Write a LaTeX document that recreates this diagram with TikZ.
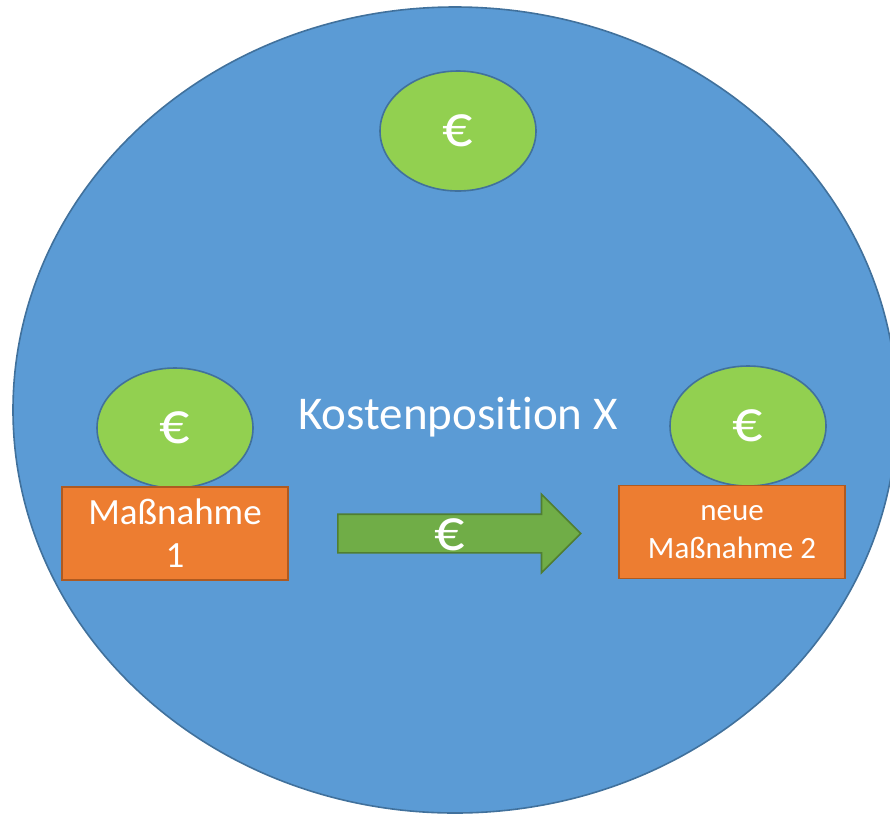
\documentclass[tikz,border=0pt]{standalone}
\usepackage{fontspec}
\setmainfont[Ligatures=NoCommon]{Carlito}
\usepackage{tikz}
\usetikzlibrary{shapes}
\usetikzlibrary{shapes.geometric}
\usetikzlibrary{shapes.arrows}
\definecolor{posfill}{HTML}{5B9BD5}
\definecolor{posline}{HTML}{41719C}
\definecolor{coinfill}{HTML}{92D050}
\definecolor{boxfill}{HTML}{ED7D31}
\definecolor{boxline}{HTML}{AE5A21}
\definecolor{flowfill}{HTML}{70AD47}
\definecolor{flowline}{HTML}{507E32}
\tikzstyle{coin} = [ellipse, draw=posline, fill=coinfill, line width=1.6pt, minimum width=156pt, minimum height=120pt, inner sep=0pt, text=white, font=\fontsize{60}{66}\selectfont]
\tikzstyle{measure} = [rectangle, draw=boxline, fill=boxfill, line width=1.6pt, minimum width=226pt, minimum height=93pt, inner sep=0pt, text=white, align=center]

\begin{document}
\begin{tikzpicture}[x=1pt, y=1pt]
\useasboundingbox (0,0) rectangle (890,-815);
\clip (0,0) rectangle (890,-815);
\node [ellipse, draw=posline, fill=posfill, line width=1.6pt, minimum width=884pt, minimum height=806pt, inner sep=0pt] (pos) at (455,-410) {};
\node [anchor=base, text=white, font=\fontsize{47}{56}\selectfont] (posname) at (458,-429) {Kostenposition X};
\node [coin] (topcoin) at (458,-131) {€};
\node [coin] (leftcoin) at (175,-428) {€};
\node [coin] (rightcoin) at (748,-426) {€};
\node [measure, font=\fontsize{37}{43}\selectfont] (M1) at (175,-533.5) {Maßnahme\\1};
\node [measure, font=\fontsize{31}{38}\selectfont] (M2) at (732,-532) {neue\\Maßnahme 2};
\node [single arrow, draw=flowline, fill=flowfill, line width=1.6pt, inner xsep=0pt, inner ysep=18.5pt, minimum height=243pt, single arrow head extend=20pt, anchor=tail] (flow) at (337,-533.5) {};
\node [text=white, font=\fontsize{60}{66}\selectfont] (flowcoin) at (450,-535) {€};
\end{tikzpicture}
\end{document}
